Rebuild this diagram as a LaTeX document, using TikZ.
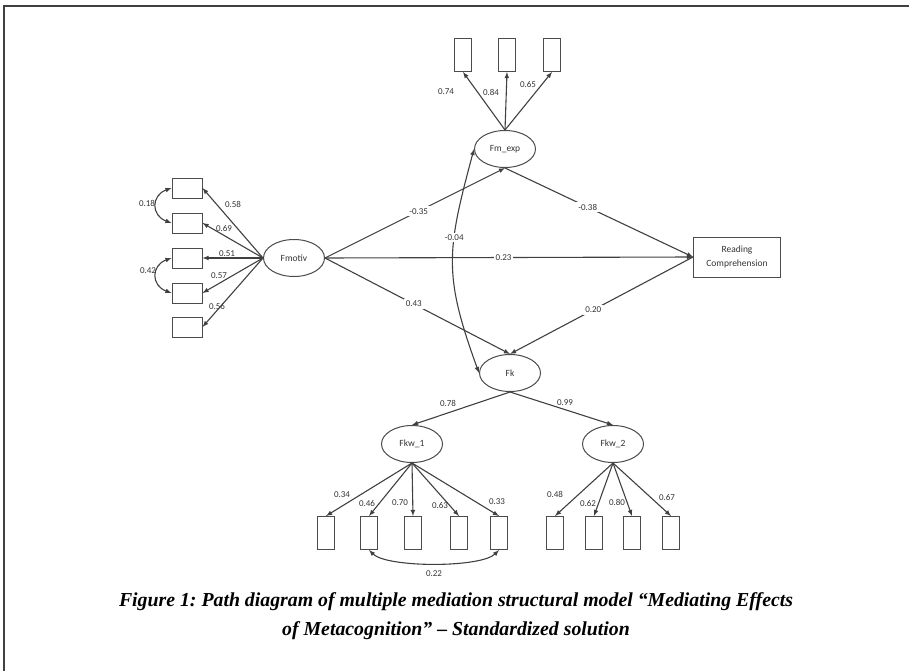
\documentclass[tikz,border=0pt]{standalone}
\usepackage{fontspec}
\setmainfont{Liberation Serif}
\newfontfamily\diagfont{Carlito}
\usetikzlibrary{arrows,shapes}
\tikzstyle{latent}=[ellipse,draw=black!70,line width=1pt,minimum width=61pt,minimum height=37pt,inner sep=0pt,font=\diagfont\fontsize{9.5}{10}\selectfont,text=black!80]
\tikzstyle{indicator}=[rectangle,draw=black!70,line width=1pt,minimum width=17pt,minimum height=33pt,inner sep=0pt]
\tikzstyle{wideindicator}=[indicator,minimum width=30pt,minimum height=20pt]
\tikzstyle{outcome}=[rectangle,draw=black!70,line width=1pt,minimum width=87pt,minimum height=40pt,align=center,font=\diagfont\fontsize{9.5}{14}\selectfont,text=black!80]
\tikzstyle{edge}=[draw=black!75,line width=1.1pt,->]
\tikzstyle{covedge}=[draw=black!75,line width=1.1pt,<->]
\tikzstyle{weight}=[font=\diagfont\fontsize{9}{10}\selectfont,text=black!80,inner sep=1pt]
\tikzstyle{cutweight}=[weight,fill=white,inner sep=2pt]
\tikzstyle{caption}=[font=\frenchspacing\bfseries\itshape\fontsize{19.8}{22}\selectfont,inner sep=0pt]

\begin{document}
\begin{tikzpicture}[x=1pt,y=1pt,>=latex]
 \useasboundingbox (0,0) rectangle (909,-671);
 \draw[black!75,line width=1.5pt] (4,-671) -- (4,-6) -- (909,-6);

 \node[latent] (fmotiv) at (294,-258) {Fmotiv};
 \node[latent] (fmexp) at (505,-149) {Fm\_exp};
 \node[latent] (fk) at (510,-373) {Fk};
 \node[latent] (fkw1) at (412,-444) {Fkw\_1};
 \node[latent] (fkw2) at (613,-444) {Fkw\_2};
 \node[outcome] (rc) at (737,-257) {Reading\\Comprehension};

 \foreach \y/\name in {188/m1, 223/m2, 258/m3, 293/m4, 327/m5}
    \node[wideindicator] (\name) at (187,-\y) {};
 \foreach \x/\name in {463/e1, 507/e2, 552/e3}
    \node[indicator] (\name) at (\x,-55) {};
 \foreach \x/\name in {326/a1, 369/a2, 413/a3, 459/a4, 499/a5}
    \node[indicator] (\name) at (\x,-533) {};
 \foreach \x/\name in {555/b1, 594/b2, 632/b3, 671/b4}
    \node[indicator] (\name) at (\x,-533) {};

 \foreach \dest/\lx/\ly/\weight in {m1/233/204/0.58, m2/224/228/0.69, m3/227/254/0.51, m4/219/276/0.57, m5/217/306/0.56}
 {
    \path[edge] (fmotiv.west) -- (\dest.east);
    \node[weight] (w-\dest) at (\lx,-\ly) {\weight};
 }
 \foreach \dest/\lx/\ly/\weight in {e1/446/92/0.74, e2/491/92/0.84, e3/528/84/0.65}
 {
    \path[edge] (fmexp.north) -- (\dest.south);
    \node[weight] (w-\dest) at (\lx,-\ly) {\weight};
 }
 \foreach \dest/\lx/\ly/\weight in {a1/342/495/0.34, a2/367/503/0.46, a3/400/503/0.70, a4/440/505/0.63, a5/497/502/0.33}
 {
    \path[edge] (fkw1.south) -- (\dest.north);
    \node[weight] (w-\dest) at (\lx,-\ly) {\weight};
 }
 \foreach \dest/\lx/\ly/\weight in {b1/555/494/0.48, b2/588/503/0.62, b3/617/502/0.80, b4/667/497/0.67}
 {
    \path[edge] (fkw2.south) -- (\dest.north);
    \node[weight] (w-\dest) at (\lx,-\ly) {\weight};
 }

 \path[edge] (fmotiv.east) -- node[cutweight,pos=0.52] (w-exp) {-0.35} (fmexp.south);
 \path[edge] (fmexp.south) -- node[cutweight,pos=0.44] (w-rcexp) {-0.38} (rc.west);
 \path[edge] (fmotiv.east) -- node[cutweight,pos=0.485] (w-rc) {0.23} (rc.west);
 \path[edge] (fmotiv.east) -- node[cutweight,pos=0.48] (w-fk) {0.43} (fk.north);
 \path[edge] (rc.west) -- node[cutweight,pos=0.545] (w-rcfk) {0.20} (fk.north);
 \path[covedge] (fmexp.west) to[out=255,in=110,looseness=1.2] node[cutweight,pos=0.37] (w-cov) {-0.04} (fk.west);

 \path[edge] (fk.south) -- (fkw1.north);
 \path[edge] (fk.south) -- (fkw2.north);
 \node[weight] (w-fkw1) at (448,-403) {0.78};
 \node[weight] (w-fkw2) at (565,-403) {0.99};

 \path[covedge] (m1.west) to[out=200,in=160,looseness=1.6] (m2.west);
 \path[covedge] (m3.west) to[out=200,in=160,looseness=1.6] (m4.west);
 \node[weight] (w-m12) at (147,-203) {0.18};
 \node[weight] (w-m34) at (148,-271) {0.42};
 \path[covedge] (a2.south) to[out=-45,in=-135,looseness=0.5] (a5.south);
 \node[weight] (w-a25) at (434,-574) {0.22};

 \node[caption] (cap1) at (456,-602) {Figure 1: Path diagram of multiple mediation structural model “Mediating Effects};
 \node[caption] (cap2) at (456,-631) {of Metacognition” – Standardized solution};
\end{tikzpicture}
\end{document}
